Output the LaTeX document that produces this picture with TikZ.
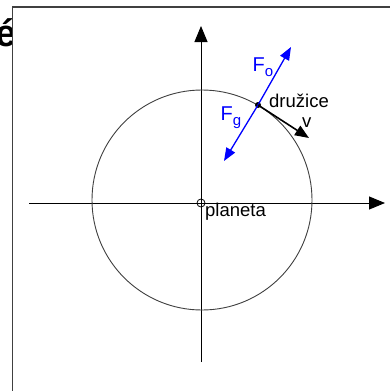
\documentclass[tikz,border=0pt]{standalone}
\usepackage{fontspec}
\setmainfont{Liberation Sans}
\usetikzlibrary{arrows.meta,calc}

\begin{document}
\begin{tikzpicture}[x=1pt,y=-1pt, line cap=butt,
  font=\fontsize{18.5}{20}\selectfont,
  axis/.style={draw=black,line width=1pt,-{Triangle[length=16pt,width=13pt]}},
  force/.style={draw=blue,line width=1.3pt,-{Triangle[length=13pt,width=10pt]}},
  flabel/.style={text=blue,inner sep=0pt,font=\fontsize{20}{22}\selectfont},
  lbl/.style={inner sep=0pt,anchor=base west}]
  \useasboundingbox (0,0) rectangle (390,391);
  % frame and cut-off letter
  \draw[line width=1.6pt,draw=black!75] (12.5,391) -- (12.5,7) -- (390,7);
  \begin{scope}
    \clip (0,0) rectangle (11.5,60);
    \node[inner sep=0pt,anchor=base east,font=\fontsize{38}{40}\bfseries\selectfont] (cut) at (17,46) {é};
  \end{scope}
  % axes
  \coordinate (O) at (201,203);
  \coordinate (xl) at (29,203);  \coordinate (xr) at (385,203);
  \coordinate (yb) at (201,362); \coordinate (yt) at (201,26);
  \draw[axis] (xl) -- (xr);
  \draw[axis] (yb) -- (yt);
  % orbit and planet
  \coordinate (orb) at (202,200);
  \draw[black!75,line width=0.9pt] (orb) circle[radius=110];
  \node[draw,circle,line width=0.8pt,minimum size=8pt,inner sep=0pt] (pl) at (O) {};
  \node[lbl] (plab) at (205,216) {planeta};
  % satellite with forces and velocity
  \node[fill,circle,inner sep=0pt,minimum size=6pt] (sat) at (258,105) {};
  \coordinate (fo) at (291,47);
  \coordinate (fg) at (224,161);
  \coordinate (vt) at (309,138);
  \draw[force] (sat.center) -- (fo);
  \draw[force] (sat.center) -- (fg);
  \draw[line width=1.6pt,-{Triangle[length=14pt,width=11pt]}] (sat.center) -- (vt);
  \node[flabel] (Fo) at (263,67) {F\raisebox{-0.45ex}{\fontsize{15}{16}\selectfont o}};
  \node[flabel] (Fg) at (231,118) {F\raisebox{-0.45ex}{\fontsize{15}{16}\selectfont g}};
  \node[lbl] (dr) at (269,107) {družice};
  \node[lbl] (v) at (302,127) {v};
\end{tikzpicture}
\end{document}
